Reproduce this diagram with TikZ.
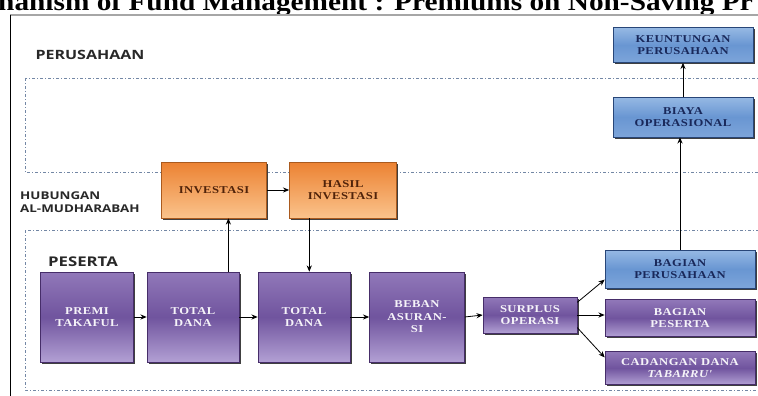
\documentclass[tikz,border=0pt]{standalone}
\usepackage{fontspec}
\setmainfont{Liberation Serif}
\newfontfamily\lblfont[FakeStretch=1.25]{Open Sans}
\newfontfamily\boxfont[FakeStretch=1.2,LetterSpace=4]{Liberation Serif}
\newfontfamily\titlefont[FakeStretch=1.15]{Liberation Serif}
\usetikzlibrary{arrows.meta,shadows}
\definecolor{pkPurpleTop}{RGB}{145,120,185}
\definecolor{pkPurpleMid}{RGB}{112,84,158}
\definecolor{pkPurpleBot}{RGB}{178,160,212}
\definecolor{pkPurpleDraw}{RGB}{70,45,105}
\definecolor{pkBlueTop}{RGB}{150,185,228}
\definecolor{pkBlueMid}{RGB}{105,150,210}
\definecolor{pkBlueBot}{RGB}{125,165,218}
\definecolor{pkBlueDraw}{RGB}{40,70,120}
\definecolor{pkOrangeTop}{RGB}{236,130,50}
\definecolor{pkOrangeBot}{RGB}{250,195,140}
\definecolor{pkOrangeDraw}{RGB}{170,90,30}
\definecolor{pkNavy}{RGB}{25,40,90}
\definecolor{pkBrown}{RGB}{80,35,10}
\definecolor{pkDash}{RGB}{115,135,165}
\definecolor{pkLabel}{RGB}{40,40,40}

\begin{document}
\begin{tikzpicture}[
  x=1pt, y=-1pt,
  box/.style={rectangle, draw, line width=0.6pt, align=center, inner sep=2pt,
    font=\boxfont\bfseries\fontsize{10.5}{12.5}\selectfont,
    drop shadow={shadow xshift=1.6pt, shadow yshift=-1.6pt, fill=black!75, opacity=1}},
  pbox/.style={box, draw=pkPurpleDraw, top color=pkPurpleTop, bottom color=pkPurpleBot,
    middle color=pkPurpleMid, text=white!92!pkPurpleTop},
  bbox/.style={box, draw=pkBlueDraw, top color=pkBlueTop, bottom color=pkBlueBot,
    middle color=pkBlueMid, text=pkNavy},
  obox/.style={box, draw=pkOrangeDraw, top color=pkOrangeTop, bottom color=pkOrangeBot,
    text=pkBrown},
  lbl/.style={font=\lblfont\bfseries, text=pkLabel, inner sep=0pt},
  zone/.style={draw=pkDash, line width=0.7pt, dash pattern=on 3pt off 2pt on 1pt off 2pt},
  ar/.style={-{Stealth[length=2.2mm, width=1.8mm]}, line width=0.8pt}
]
  \useasboundingbox (0,0) rectangle (758,396);
  \clip (0,0) rectangle (758,396);
  % title line and frame
  \node[font=\titlefont\bfseries\fontsize{25.5}{26}\selectfont, anchor=base west, inner sep=0pt]
    (title) at (-2,11) {hanism of Fund Management : Premiums on Non-Saving Pr};
  \draw[gray!70, line width=2pt] (10,15) -- (770,15);
  \draw[black, line width=1pt] (10,15) -- (10,400);
  % zones
  \draw[zone] (25,78) rectangle (780,172);
  \draw[zone] (25,230) rectangle (780,390);
  \node[lbl, font=\lblfont\bfseries\fontsize{12.8}{14}\selectfont] (lperu) at (90,55) {PERUSAHAAN};
  \node[lbl, font=\lblfont\bfseries\fontsize{10.7}{13}\selectfont, align=left, anchor=west]
    (lhub) at (20,202) {HUBUNGAN\\AL-MUDHARABAH};
  \node[lbl, font=\lblfont\bfseries\fontsize{13.4}{14}\selectfont] (lpes) at (83,262) {PESERTA};
  % peserta
  \node[pbox, minimum width=93, minimum height=90] (premi) at (87,317) {PREMI\\TAKAFUL};
  \node[pbox, minimum width=92, minimum height=90] (tot1) at (193,317) {TOTAL\\DANA};
  \node[pbox, minimum width=92, minimum height=90] (tot2) at (304,317) {TOTAL\\DANA};
  \node[pbox, minimum width=95, minimum height=90] (beban) at (417,317) {BEBAN\\ASURAN-\\SI};
  \node[pbox, minimum width=94, minimum height=36] (surplus) at (530,315) {SURPLUS\\OPERASI};
  \node[bbox, minimum width=150, minimum height=38] (bper) at (680,269) {BAGIAN\\PERUSAHAAN};
  \node[pbox, minimum width=150, minimum height=37] (bpes) at (680,318) {BAGIAN\\PESERTA};
  \node[pbox, minimum width=150, minimum height=33] (cad) at (680,368) {CADANGAN DANA\\\textit{TABARRU'}};
  % perusahaan
  \node[bbox, minimum width=140, minimum height=40] (biaya) at (683,117) {BIAYA\\OPERASIONAL};
  \node[bbox, minimum width=140, minimum height=35] (keun) at (683,45) {KEUNTUNGAN\\PERUSAHAAN};
  % mudharabah
  \node[obox, minimum width=105, minimum height=56] (inv) at (214,190) {INVESTASI};
  \node[obox, minimum width=107, minimum height=56] (hasil) at (343,190) {HASIL\\INVESTASI};
  % arrows
  \draw[ar] (premi) -- (tot1);
  \draw[ar] (tot1) -- (tot2);
  \draw[ar] (tot2) -- (beban);
  \draw[ar] (beban.east) -- (surplus.west);
  \draw[ar] (surplus.15) -- (bper.188);
  \draw[ar] (surplus.east) -- (bpes.west |- surplus.east);
  \draw[ar] (surplus.-15) -- (cad.172);
  \draw[ar] (tot1.52) -- (tot1.52 |- inv.south);
  \draw[ar] (inv) -- (hasil);
  \draw[ar] (hasil.220) -- (hasil.220 |- tot2.north);
  \draw[ar] (bper.north) -- (bper.north |- biaya.south);
  \draw[ar] (biaya.north) -- (biaya.north |- keun.south);
\end{tikzpicture}
\end{document}
